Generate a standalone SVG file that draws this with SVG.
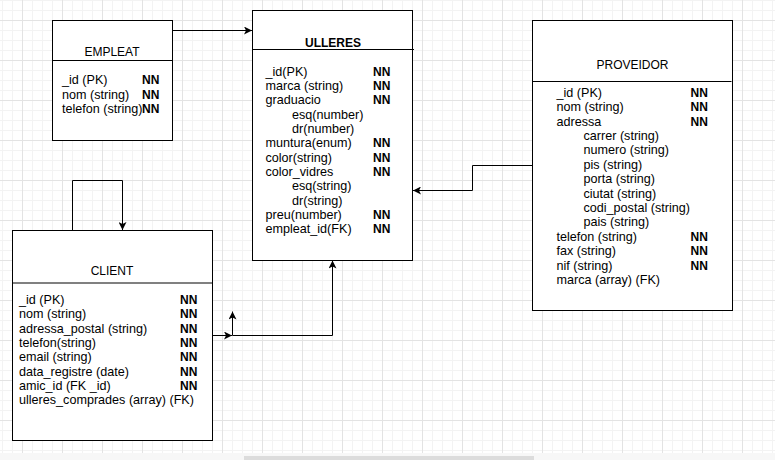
<svg xmlns="http://www.w3.org/2000/svg" width="775" height="460" viewBox="0 0 775 460">
<defs>
<pattern id="minor" patternUnits="userSpaceOnUse" x="2" y="0" width="10" height="10"><path d="M0.5 0V10M0 0.5H10" stroke="#f3f3f3" stroke-width="1" fill="none"/></pattern>
<pattern id="major" patternUnits="userSpaceOnUse" x="22" y="20" width="40" height="40"><path d="M0.5 0V40M0 0.5H40" stroke="#e3e3e3" stroke-width="1" fill="none"/></pattern>
<marker id="arr" viewBox="0 0 8 8" refX="8" refY="4" markerWidth="8" markerHeight="8" markerUnits="userSpaceOnUse" orient="auto"><path d="M0 0 L8 4 L0 8 L2 4 Z" fill="#000"/></marker>
<style>
.box{fill:#fff;stroke:#000;stroke-width:1}
.div{stroke:#000;stroke-width:1}
.t{font-family:"Liberation Sans",Arial,Helvetica,sans-serif;font-size:12.6px;fill:#000}
.h{font-size:12px;text-anchor:middle}
.b{font-weight:bold}
.nn{font-weight:bold;font-size:12px}
.edge{fill:none;stroke:#000;stroke-width:1}
</style>
</defs>
<rect width="775" height="460" fill="#fff"/>
<rect width="775" height="460" fill="url(#minor)"/>
<rect width="775" height="460" fill="url(#major)"/>

<g id="connectors">
<path class="edge" d="M172.5 30.5H252" marker-end="url(#arr)"/>
<path class="edge" d="M532 165.5H472.5V190.5H413" marker-end="url(#arr)"/>
<path class="edge" d="M72.5 230V180.5H122.5V230" marker-end="url(#arr)"/>
<path class="edge" d="M212.5 335.5H232" marker-end="url(#arr)"/>
<path class="edge" d="M232.5 335.5V311.5" marker-end="url(#arr)"/>
<path class="edge" d="M232.5 335.5H332.5V260.5" marker-end="url(#arr)"/>
</g>

<g id="empleat">
<rect class="box" x="52.5" y="20.5" width="120" height="120"/>
<line class="div" x1="52.5" y1="60.5" x2="172.5" y2="60.5"/>
<text class="t h" x="112" y="56">EMPLEAT</text>
<text class="t" x="62" y="84.3">_id (PK)</text>
<text class="t" x="62" y="98.6">nom (string)</text>
<text class="t" x="62" y="112.9">telefon (string)</text>
<text class="t nn" x="142" y="84.3">NN</text>
<text class="t nn" x="142" y="98.6">NN</text>
<text class="t nn" x="142" y="112.9">NN</text>
</g>

<g id="ulleres">
<rect class="box" x="252.5" y="10.5" width="160" height="250"/>
<line class="div" x1="252.5" y1="49.5" x2="414" y2="49.5"/>
<text class="t h b" x="333" y="46.7">ULLERES</text>
<text class="t" x="265.5" y="75.8">_id(PK)</text>
<text class="t" x="265.5" y="90.1">marca (string)</text>
<text class="t" x="265.5" y="104.4">graduacio</text>
<text class="t" x="292" y="118.7">esq(number)</text>
<text class="t" x="292" y="133">dr(number)</text>
<text class="t" x="265.5" y="147.3">muntura(enum)</text>
<text class="t" x="265.5" y="161.6">color(string)</text>
<text class="t" x="265.5" y="175.9">color_vidres</text>
<text class="t" x="292" y="190.2">esq(string)</text>
<text class="t" x="292" y="204.5">dr(string)</text>
<text class="t" x="265.5" y="218.8">preu(number)</text>
<text class="t" x="265.5" y="233.1">empleat_id(FK)</text>
<text class="t nn" x="373" y="75.8">NN</text>
<text class="t nn" x="373" y="90.1">NN</text>
<text class="t nn" x="373" y="104.4">NN</text>
<text class="t nn" x="373" y="147.3">NN</text>
<text class="t nn" x="373" y="161.6">NN</text>
<text class="t nn" x="373" y="175.9">NN</text>
<text class="t nn" x="373" y="218.8">NN</text>
<text class="t nn" x="373" y="233.1">NN</text>
</g>

<g id="proveidor">
<rect class="box" x="532.5" y="20.5" width="200" height="290"/>
<line class="div" x1="532" y1="81.5" x2="731.5" y2="81.5"/>
<text class="t h" x="632.5" y="69">PROVEIDOR</text>
<text class="t" x="556.5" y="96.8">_id (PK)</text>
<text class="t" x="556.5" y="111.2">nom (string)</text>
<text class="t" x="556.5" y="125.6">adressa</text>
<text class="t" x="583.5" y="140">carrer (string)</text>
<text class="t" x="583.5" y="154.4">numero (string)</text>
<text class="t" x="583.5" y="168.8">pis (string)</text>
<text class="t" x="583.5" y="183.2">porta (string)</text>
<text class="t" x="583.5" y="197.6">ciutat (string)</text>
<text class="t" x="583.5" y="212">codi_postal (string)</text>
<text class="t" x="583.5" y="226.4">pais (string)</text>
<text class="t" x="556.5" y="240.8">telefon (string)</text>
<text class="t" x="556.5" y="255.2">fax (string)</text>
<text class="t" x="556.5" y="269.6">nif (string)</text>
<text class="t" x="556.5" y="284">marca (array) (FK)</text>
<text class="t nn" x="690.5" y="96.8">NN</text>
<text class="t nn" x="690.5" y="111.2">NN</text>
<text class="t nn" x="690.5" y="125.6">NN</text>
<text class="t nn" x="690.5" y="240.8">NN</text>
<text class="t nn" x="690.5" y="255.2">NN</text>
<text class="t nn" x="690.5" y="269.6">NN</text>
</g>

<g id="client">
<rect class="box" x="12.5" y="230.5" width="200" height="210"/>
<line x1="13" y1="283" x2="212" y2="283" stroke="#808080" stroke-width="2"/>
<text class="t h" x="112" y="274.7">CLIENT</text>
<text class="t" x="19" y="303.8">_id (PK)</text>
<text class="t" x="19" y="318.2">nom (string)</text>
<text class="t" x="19" y="332.5">adressa_postal (string)</text>
<text class="t" x="19" y="346.9">telefon(string)</text>
<text class="t" x="19" y="361.2">email (string)</text>
<text class="t" x="19" y="375.6">data_registre (date)</text>
<text class="t" x="19" y="389.9">amic_id (FK _id)</text>
<text class="t" x="19" y="404.3">ulleres_comprades (array) (FK)</text>
<text class="t nn" x="180" y="303.8">NN</text>
<text class="t nn" x="180" y="318.2">NN</text>
<text class="t nn" x="180" y="332.5">NN</text>
<text class="t nn" x="180" y="346.9">NN</text>
<text class="t nn" x="180" y="361.2">NN</text>
<text class="t nn" x="180" y="375.6">NN</text>
<text class="t nn" x="180" y="389.9">NN</text>
</g>

<rect x="0" y="453" width="775" height="7" fill="#f7f7f7"/>
<rect x="244" y="456" width="290" height="4" fill="#dcdcdc"/>
</svg>
